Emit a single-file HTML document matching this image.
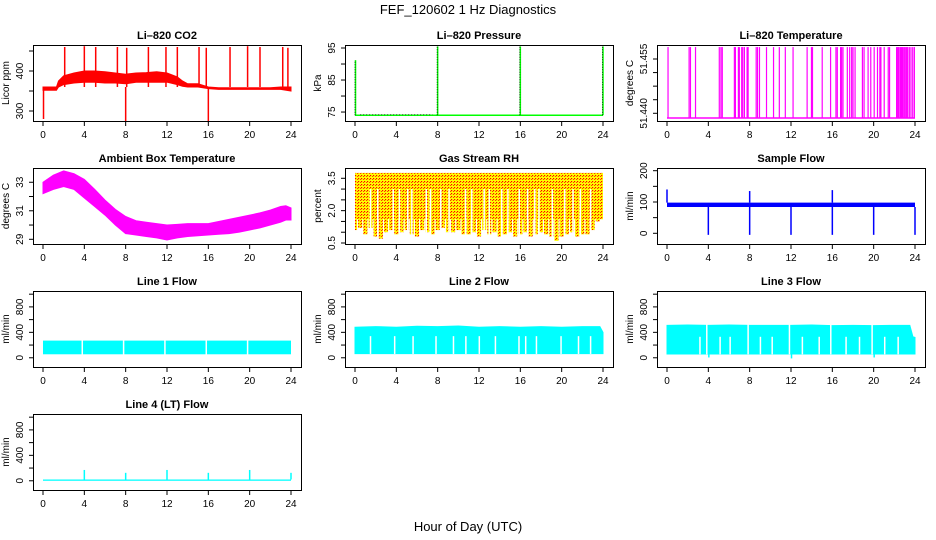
<!DOCTYPE html>
<html><head><meta charset="utf-8"><style>
html,body{margin:0;padding:0;background:#fff;}
svg{display:block;font-family:"Liberation Sans",Arial,sans-serif;}
</style></head><body>
<svg id="chart" width="936" height="540" viewBox="0 0 936 540" xmlns="http://www.w3.org/2000/svg">
<defs>
<pattern id="rhpat" width="3" height="3" patternUnits="userSpaceOnUse"><rect width="3" height="3" fill="#ffff00"/><rect x="1" y="1" width="1.2" height="1.2" fill="#ff0000"/><rect x="0" y="2" width="1" height="1" fill="#ff4000"/></pattern>
</defs>
<text x="468" y="14" text-anchor="middle" font-size="13">FEF_120602  1 Hz Diagnostics</text>
<text x="468" y="531" text-anchor="middle" font-size="13">Hour of Day (UTC)</text>
</svg>
<script>
// ---- data ----
const xTicks = [0,4,8,12,16,20,24];
const co2Hours = [0,1.3,1.5,2,3,4,5,6,7,8,9,10,11,12,13,13.5,14,15,16,17,18,19,20,21,22,23,24];
const co2Low  = [352,352,360,366,370,372,372,370,370,368,372,372,372,372,366,362,360,360,356,354,354,354,354,354,354,354,350];
const co2High = [360,360,375,388,395,400,400,398,395,392,395,396,398,395,385,375,368,368,360,358,358,358,358,358,358,360,360];
const co2SpikeHours = [2.1,4,5.1,7.2,8.1,10.2,11.9,13,15.1,15.8,18.1,19.8,21,23.2,23.7];
const co2SpikeVals = [460,462,460,460,458,460,460,460,460,458,460,462,460,460,458];
const co2DipHours = [0.05,8,16];
const co2DipVals = [280,275,272];
const presBase = 74.0;
const presSpikeHours = [0.05,8,16,24];
const presSpikeVals = [91.2,95.5,95.5,95.5];
const tempBase = 51.4387;
const tempTop = 51.4583;
const tempSpikeHours = [0.1,2.14,2.27,2.76,5.06,5.22,5.35,6.52,6.62,6.91,7.0,7.23,7.33,7.49,7.75,7.85,8.63,8.76,8.95,9.63,10.31,10.87,11.45,12.2,13.56,13.98,14.08,15.02,15.83,16.35,16.48,16.8,16.9,17.03,17.45,17.68,17.87,18.0,18.2,18.91,19.07,19.46,19.72,20.05,20.37,20.6,20.7,21.02,21.41,21.54,22.22,22.32,22.41,22.54,22.64,22.74,22.84,22.96,23.06,23.19,23.29,23.45,23.61,23.78,23.94];
const ambHours = [0,1,2,3,4,5,6,7,8,9,10,11,12,13,14,15,16,17,18,19,20,21,22,23,23.5,24];
const ambLow  = [32.2,32.5,32.7,32.5,31.9,31.3,30.7,30.0,29.4,29.3,29.2,29.1,28.95,29.1,29.2,29.25,29.3,29.35,29.4,29.5,29.65,29.8,30.0,30.2,30.35,30.35];
const ambHigh = [33.0,33.5,33.8,33.6,33.2,32.5,31.75,31.1,30.6,30.3,30.2,30.1,30.0,30.05,30.1,30.1,30.1,30.25,30.4,30.55,30.7,30.85,31.05,31.3,31.35,31.2];
const rhTop = 3.75, rhSolidLow = 1.6;
const rhLowHours = [0,0.5,1,1.5,2,2.5,3,3.5,4,4.5,5,5.5,6,6.5,7,7.5,8,8.5,9,9.5,10,10.5,11,11.5,12,12.5,13,13.5,14,14.5,15,15.5,16,16.5,17,17.5,18,18.5,19,19.5,20,20.5,21,21.5,22,22.5,23,23.5,24];
const rhLowVals = [1.1,1.2,0.9,1.2,0.8,0.7,1.0,1.1,0.9,1.0,1.1,0.9,0.8,1.1,1.0,0.9,1.1,1.2,1.0,1.0,1.1,0.9,0.9,1.0,0.8,1.1,0.9,1.0,0.8,0.9,1.0,0.8,0.9,1.0,0.8,0.9,1.0,0.9,0.8,0.6,0.8,0.9,1.0,0.8,0.9,0.9,1.1,1.5,1.8];
const rhGapHours = [1.5,2.2,3.7,4.3,5.1,5.5,6.9,7.3,8.3,9.1,10.7,11.3,12.5,13.0,14.2,14.8,15.9,16.7,17.4,17.8,19.1,20.3,21.1,21.8,22.8];
const sfLow = 84, sfHigh = 98;
const sfSpikeHours = [0,8,16];
const sfSpikeVals = [140,135,138];
const sfDipHours = [4,8,12,16,20,24];
const sfDipVals = [-5,-5,-5,-5,-5,-5];
const l1Low = 55, l1High = 270;
const l1GapHours = [3.8,7.8,11.8,15.8,19.8];
const l2Low = 65, l2Mid = 340;
const l2TopHours = [0,2,4,6,8,10,12,14,16,18,20,22,23.7,24];
const l2TopVals = [480,490,480,495,490,500,480,490,480,490,480,490,490,400];
const l2GapHours = [1.5,3.84,5.62,7.84,9.53,10.73,12.03,13.59,15.87,16.52,17.56,19.94,21.63,22.8];
const l3Low = 60, l3Mid = 330;
const l3TopHours = [0,2,4,6,8,10,12,14,16,18,20,22,23.5,23.8,24];
const l3TopVals = [510,515,510,515,510,510,510,515,505,510,505,510,510,330,320];
const l3FullGapHours = [3.85,7.85,11.85,15.85,19.85];
const l3GapHours = [3.19,5.14,6.11,9.04,10.18,13.1,14.73,17.33,18.63,21.07,22.37];
const l3DipHours = [4,12,20];
const l3DipVals = [5,-10,5];
const l4Base = 20;
const l4SpikeHours = [4,8,12,16,20,24];
const l4SpikeVals = [170,125,170,125,170,125];

// ---- helpers ----
const svg = document.getElementById('chart');
const NS = 'http://www.w3.org/2000/svg';
function mk(tag, attrs, parent){ const e=document.createElementNS(NS,tag); for(const k in attrs) e.setAttribute(k,attrs[k]); (parent||svg).appendChild(e); return e; }

function panel(col,row,name,title,ylab,ymin,ymax,yticks,ylabels){
  const g = mk('g',{});
  
  
  const L=33+312*col, T=45+123*row, W=268, H=76;
  const x = h => L+10+h*248/24;
  const y = v => T+H-(v-ymin)/(ymax-ymin)*H;
  const t = mk('text',{x:L+W/2,y:T-6,'text-anchor':'middle','font-size':11,'font-weight':'bold'},g);
  t.textContent=title;
  
  
  const data = mk('g',{},g);
  
  
  const ax = mk('g',{stroke:'#000','stroke-width':1,fill:'none'},g);
  
  
  mk('rect',{x:L+0.5,y:T+0.5,width:W,height:H},ax);
  mk('line',{x1:x(0),x2:x(24),y1:T+H+0.5,y2:T+H+0.5},ax);
  xTicks.forEach(h=>{
    mk('line',{x1:x(h),x2:x(h),y1:T+H,y2:T+H+5},ax);
    const tl=mk('text',{x:x(h),y:T+H+17,'text-anchor':'middle','font-size':10,fill:'#000',stroke:'none'},g);
    tl.textContent=h;
    
    
  });
  mk('line',{x1:L+0.5,x2:L+0.5,y1:y(yticks[0]),y2:y(yticks[yticks.length-1])},ax);
  yticks.forEach(v=>mk('line',{x1:L-4,x2:L,y1:y(v),y2:y(v)},ax));
  ylabels.forEach(lb=>{
    const yy=y(lb[0]);
    const tl=mk('text',{x:L-10,y:yy,'text-anchor':'middle','font-size':10,transform:`rotate(-90 ${L-10} ${yy})`},g);
    tl.textContent=lb[1];
    
    
  });
  const yl=mk('text',{x:L-24,y:T+H/2,'text-anchor':'middle','font-size':10,transform:`rotate(-90 ${L-24} ${T+H/2})`},g);
  yl.textContent=ylab;
  
  
  return {x,y,g:data};
}
function band(p,hours,lo,hi,color){
  let pts=hours.map((h,i)=>p.x(h)+','+p.y(hi[i]));
  pts=pts.concat(hours.slice().reverse().map((h,i)=>p.x(h)+','+p.y(lo[hours.length-1-i])));
  return mk('polygon',{points:pts.join(' '),fill:color,stroke:color,'stroke-width':1},p.g);
}
function vline(p,h,v1,v2,color,w){ return mk('line',{x1:p.x(h),x2:p.x(h),y1:p.y(v1),y2:p.y(v2),stroke:color,'stroke-width':w||1.2},p.g); }
function rect(p,h1,h2,v1,v2,color){ return mk('rect',{x:p.x(h1),y:p.y(v2),width:p.x(h2)-p.x(h1),height:p.y(v1)-p.y(v2),fill:color},p.g); }

// ---- CO2 ----
let p = panel(0,0,'co2','Li\u2013820 CO2','Licor ppm',275,465,[300,350,400,450],[[300,'300'],[400,'400']]);
band(p,co2Hours,co2Low,co2High,'#ff0000');
co2SpikeHours.forEach((h,i)=>vline(p,h,360,co2SpikeVals[i],'#ff0000',1.5));
co2DipHours.forEach((h,i)=>vline(p,h,360,co2DipVals[i],'#ff0000',1.5));

// ---- Pressure ----
p = panel(1,0,'pressure','Li\u2013820 Pressure','kPa',72.2,95.94,[75,80,85,90,95],[[75,'75'],[85,'85'],[95,'95']]);
mk('line',{x1:p.x(0),x2:p.x(24),y1:p.y(presBase),y2:p.y(presBase),stroke:'#00ff00','stroke-width':1.5},p.g);
mk('line',{x1:p.x(0.5),x2:p.x(7.5),y1:p.y(presBase+0.15),y2:p.y(presBase+0.15),stroke:'#000','stroke-width':0.8,'stroke-dasharray':'1,2'},p.g);
presSpikeHours.forEach((h,i)=>{ vline(p,h,presBase,presSpikeVals[i],'#00ff00',1.5); mk('line',{x1:p.x(h)-0.5,x2:p.x(h)-0.5,y1:p.y(presBase),y2:p.y(presSpikeVals[i]),stroke:'#000','stroke-width':0.8,'stroke-dasharray':'1,1.5'},p.g); });

// ---- Li-820 Temperature ----
p = panel(2,0,'li820-temp','Li\u2013820 Temperature','degrees C',51.43787,51.45887,[51.44,51.44375,51.4475,51.45125,51.455],[[51.44,'51.440'],[51.455,'51.455']]);
mk('line',{x1:p.x(0),x2:p.x(24),y1:p.y(tempBase),y2:p.y(tempBase),stroke:'#ff00ff','stroke-width':1.5},p.g);
tempSpikeHours.forEach(h=>vline(p,h,tempBase,tempTop,'#ff00ff',1.2));

// ---- Ambient ----
p = panel(0,1,'ambient-temp','Ambient Box Temperature','degrees C',28.67,34.0,[29,30,31,32,33],[[29,'29'],[31,'31'],[33,'33']]);
band(p,ambHours,ambLow,ambHigh,'#ff00ff');

// ---- RH ----
p = panel(1,1,'gas-rh','Gas Stream RH','percent',0.454,3.977,[0.5,1,1.5,2,2.5,3,3.5],[[0.5,'0.5'],[2,'2.0'],[3.5,'3.5']]);
rect(p,0,24,rhSolidLow,rhTop,'url(#rhpat)');
rhLowHours.forEach((h,i)=>{ rect(p,Math.max(0,h-0.2),Math.min(24,h+0.2),rhLowVals[i],rhSolidLow+0.05,'url(#rhpat)'); });
rhGapHours.forEach(h=>vline(p,h,0.5,3.0,'#ffffff',1.5));

// ---- Sample flow ----
p = panel(2,1,'sample-flow','Sample Flow','ml/min',-34.2,208.6,[0,50,100,150,200],[[0,'0'],[100,'100'],[200,'200']]);
rect(p,0,24,sfLow,sfHigh,'#0000ff');
sfSpikeHours.forEach((h,i)=>vline(p,h,sfHigh,sfSpikeVals[i],'#0000ff',1.5));
sfDipHours.forEach((h,i)=>vline(p,h,sfLow,sfDipVals[i],'#0000ff',1.5));

const flowTicks=[0,200,400,600,800,1000], flowLabels=[[0,'0'],[400,'400'],[800,'800']];
// ---- Line 1 ----
p = panel(0,2,'line1-flow','Line 1 Flow','ml/min',-145,1050,flowTicks,flowLabels);
rect(p,0,24,l1Low,l1High,'#00ffff');
l1GapHours.forEach(h=>vline(p,h,l1Low-5,l1High+5,'#ffffff',1.5));

// ---- Line 2 ----
p = panel(1,2,'line2-flow','Line 2 Flow','ml/min',-145,1050,flowTicks,flowLabels);
band(p,l2TopHours,l2TopHours.map(()=>l2Low),l2TopVals,'#00ffff');
l2GapHours.forEach(h=>vline(p,h,l2Low-5,l2Mid,'#ffffff',1.5));

// ---- Line 3 ----
p = panel(2,2,'line3-flow','Line 3 Flow','ml/min',-145,1050,flowTicks,flowLabels);
band(p,l3TopHours,l3TopHours.map(()=>l3Low),l3TopVals,'#00ffff');
l3FullGapHours.forEach(h=>vline(p,h,l3Low-5,l3Mid+200,'#ffffff',1.5));
l3GapHours.forEach(h=>vline(p,h,l3Low-5,l3Mid,'#ffffff',1.5));
l3DipHours.forEach((h,i)=>vline(p,h+0.05,l3Low,l3DipVals[i],'#00ffff',1.5));

// ---- Line 4 ----
p = panel(0,3,'line4-flow','Line 4 (LT) Flow','ml/min',-145,1050,flowTicks,flowLabels);
rect(p,0,24,0,l4Base,'#00ffff');
l4SpikeHours.forEach((h,i)=>vline(p,h,l4Base,l4SpikeVals[i],'#00ffff',1.5));
</script>
</body></html>
